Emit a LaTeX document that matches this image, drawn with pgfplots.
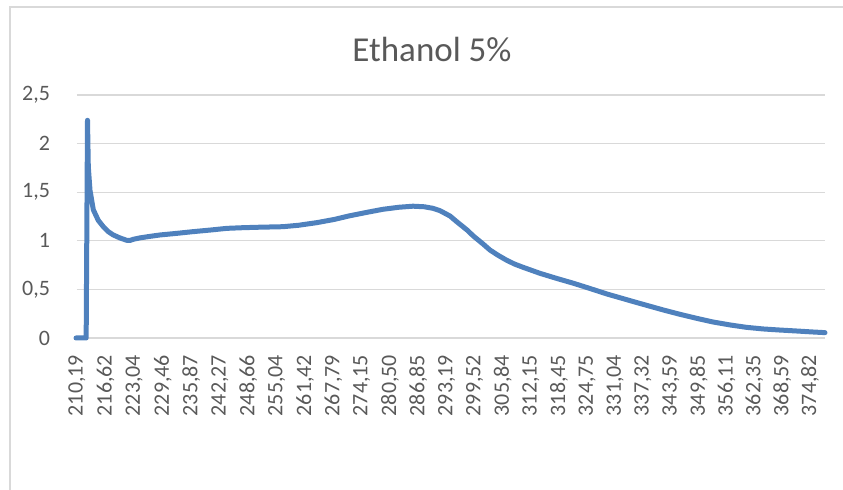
\documentclass[border=0pt]{standalone}
\usepackage{pgfplots}
\pgfplotsset{compat=1.18}
\usepackage{fontspec}
\setmainfont{Carlito}
\definecolor{lineblue}{HTML}{4F81BD}
\definecolor{gridgray}{HTML}{D9D9D9}
\definecolor{txtgray}{HTML}{595959}
\definecolor{bordergray}{HTML}{D9D9D9}
\begin{document}
\begin{tikzpicture}[x=0.5pt,y=-0.5pt]
\useasboundingbox (0,0) rectangle (843,490);
\draw[bordergray, line width=0.6pt] (10,490) -- (10,7) -- (843,7);
\node[text=txtgray, font=\fontsize{17.5}{20}\selectfont] at (432,50) {Ethanol 5\%};
\begin{axis}[
  at={(38.5pt,-169pt)}, anchor=south west,
  scale only axis, width=374pt, height=121.5pt,
  xmin=210.19, xmax=378.2, ymin=0, ymax=2.5,
  axis line style={draw=none},
  ymajorgrids, grid style={gridgray, line width=0.6pt},
  ytick={0,0.5,1,1.5,2,2.5},
  yticklabels={0,{0,5},1,{1,5},2,{2,5}},
  xtick={210.19,216.62,223.04,229.46,235.87,242.27,248.66,255.04,261.42,267.79,274.15,280.50,286.85,293.19,299.52,305.84,312.15,318.45,324.75,331.04,337.32,343.59,349.85,356.11,362.35,368.59,374.82},
  xticklabels={{210,19},{216,62},{223,04},{229,46},{235,87},{242,27},{248,66},{255,04},{261,42},{267,79},{274,15},{280,50},{286,85},{293,19},{299,52},{305,84},{312,15},{318,45},{324,75},{331,04},{337,32},{343,59},{349,85},{356,11},{362,35},{368,59},{374,82}},
  major tick length=0pt,
  tick label style={text=txtgray, font=\fontsize{11}{12}\selectfont},
  x tick label style={rotate=90, anchor=east},
  xticklabel shift=5pt,
  yticklabel style={anchor=east},
  yticklabel shift=10pt,
  clip=false,
]
\addplot[lineblue, line width=2.5pt, line join=round, line cap=round] coordinates {
(209.97,0) (211.0,0) (212.25,0) (212.55,2.24) (212.73,1.76) (213.11,1.52) (213.85,1.32)
(214.97,1.21) (216.10,1.145) (217.2,1.095) (218.34,1.06) (219.8,1.03) (221.35,1.005)
(222.2,1.005) (222.8,1.015) (224.34,1.03) (226.5,1.045) (228.83,1.06) (232.5,1.076) (236.24,1.094)
(240,1.11) (243.88,1.128) (247,1.134) (250.6,1.139) (256.46,1.145) (260,1.16)
(264.1,1.187) (268,1.22) (271.5,1.258) (275,1.29) (278.9,1.324) (282.5,1.345)
(285.66,1.356) (288.2,1.35) (290.15,1.334) (291.72,1.31) (293.97,1.255) (295.47,1.197)
(297.8,1.111) (299.2,1.05) (301.4,0.967) (302.95,0.905) (304.8,0.85) (306.7,0.80)
(308.5,0.76) (310.4,0.727) (314.2,0.665) (318,0.612) (321.7,0.563) (325.5,0.508)
(329.2,0.453) (335.5,0.37) (341.9,0.288) (345.5,0.245) (349.4,0.202) (353,0.165)
(356.9,0.134) (360.5,0.11) (364.3,0.093) (368,0.082) (371.8,0.072) (375,0.063) (378.2,0.055)
};
\end{axis}
\end{tikzpicture}
\end{document}
